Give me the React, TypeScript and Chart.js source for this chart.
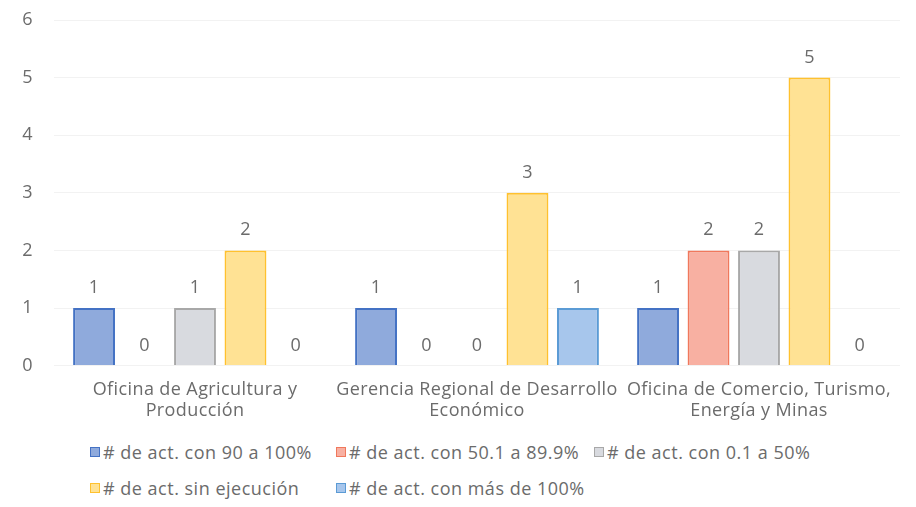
import React, { useEffect, useRef } from "react";
import { Chart, registerables } from "chart.js";

Chart.register(...registerables);

const categories: string[][] = [
  ["Oficina de Agricultura y", "Producción"],
  ["Gerencia Regional de Desarrollo", "Económico"],
  ["Oficina de Comercio, Turismo,", "Energía y Minas"],
];

const seriesNames = [
  "# de act. con 90 a 100%",
  "# de act. con 50.1 a 89.9%",
  "# de act. con 0.1 a 50%",
  "# de act. sin ejecución",
  "# de act. con más de 100%",
];

const act90a100 = [1, 1, 1];
const act50a89 = [0, 0, 2];
const act01a50 = [1, 0, 2];
const sinEjecucion = [2, 3, 5];
const masDe100 = [0, 1, 0];

const yTicks = [0, 1, 2, 3, 4, 5, 6];

const fills = ["#8FAADC", "#F8B0A2", "#D8DADF", "#FFE294", "#A7C6EC"];
const borders = ["#4472C4", "#F0785C", "#A8A8A8", "#FFC12E", "#5B9BD5"];

const FONT = "'Open Sans', sans-serif";
const TEXT = "#6b6b6b";

const spacing = {
  id: "spacing",
  beforeInit(chart: any) {
    chart.ctx.letterSpacing = "0.4px";
  },
  beforeDraw(chart: any) {
    chart.ctx.letterSpacing = "0.4px";
  },
};

const valueLabels = {
  id: "valueLabels",
  afterDatasetsDraw(chart: any) {
    const ctx = chart.ctx;
    ctx.save();
    ctx.font = `18px ${FONT}`;
    ctx.fillStyle = TEXT;
    ctx.textAlign = "center";
    ctx.textBaseline = "alphabetic";
    chart.data.datasets.forEach((ds: any, i: number) => {
      const meta = chart.getDatasetMeta(i);
      meta.data.forEach((el: any, j: number) => {
        ctx.fillText(String(ds.data[j]), el.x, el.y - 15);
      });
    });
    ctx.restore();
  },
};

export default function App() {
  const ref = useRef<HTMLCanvasElement | null>(null);

  useEffect(() => {
    if (!ref.current) return;
    const seriesValues = [act90a100, act50a89, act01a50, sinEjecucion, masDe100];
    const chart = new Chart(ref.current, {
      type: "bar",
      data: {
        labels: categories,
        datasets: seriesValues.map((vals, i) => ({
          label: seriesNames[i],
          data: vals,
          backgroundColor: fills[i],
          borderColor: borders[i],
          borderWidth: 2,
          categoryPercentage: 0.895,
          barPercentage: 0.83,
        })),
      },
      options: {
        animation: false,
        responsive: false,
        maintainAspectRatio: false,
        layout: { padding: { left: 22, right: 16, top: 20, bottom: 0 } },
        plugins: {
          legend: { display: false },
          tooltip: { enabled: false },
        },
        scales: {
          x: {
            grid: { display: false },
            border: { display: false },
            afterFit: (scale: any) => {
              scale.paddingLeft = 0;
              scale.paddingRight = 0;
            },
            ticks: {
              color: TEXT,
              font: { family: FONT, size: 18, lineHeight: 1.15 },
              padding: 6,
              maxRotation: 0,
              autoSkip: false,
            },
          },
          y: {
            min: 0,
            max: 6,
            afterBuildTicks: (axis: any) => {
              axis.ticks = yTicks.map((v) => ({ value: v }));
            },
            afterFit: (scale: any) => {
              scale.width = 32;
              scale.paddingTop = 0;
              scale.paddingBottom = 0;
            },
            grid: { color: "rgba(0,0,0,0.05)", drawTicks: false },
            border: { display: false },
            ticks: {
              color: TEXT,
              font: { family: FONT, size: 18 },
              padding: 21,
            },
          },
        },
      },
      plugins: [spacing, valueLabels],
    });
    return () => chart.destroy();
  }, []);

  const legendItems = seriesNames.map((name, i) => (
    <div key={i} style={{ display: "flex", alignItems: "center", whiteSpace: "nowrap" }}>
      <span
        style={{
          display: "inline-block",
          width: 8,
          height: 8,
          background: fills[i],
          border: `1.5px solid ${borders[i]}`,
          marginRight: 3,
        }}
      />
      <span>{name}</span>
    </div>
  ));

  return (
    <div
      style={{
        position: "fixed",
        left: 0,
        top: 0,
        width: 916,
        height: 507,
        background: "#fff",
        overflow: "hidden",
      }}
    >
      <canvas ref={ref} width={916} height={427} style={{ display: "block" }} />
      <div
        style={{
          position: "absolute",
          left: 90,
          top: 441,
          display: "grid",
          gridTemplateColumns: "246px 258px auto",
          rowGap: 14,
          fontFamily: FONT,
          fontSize: 18,
          letterSpacing: "0.5px",
          lineHeight: "22px",
          color: TEXT,
        }}
      >
        {legendItems}
      </div>
    </div>
  );
}
